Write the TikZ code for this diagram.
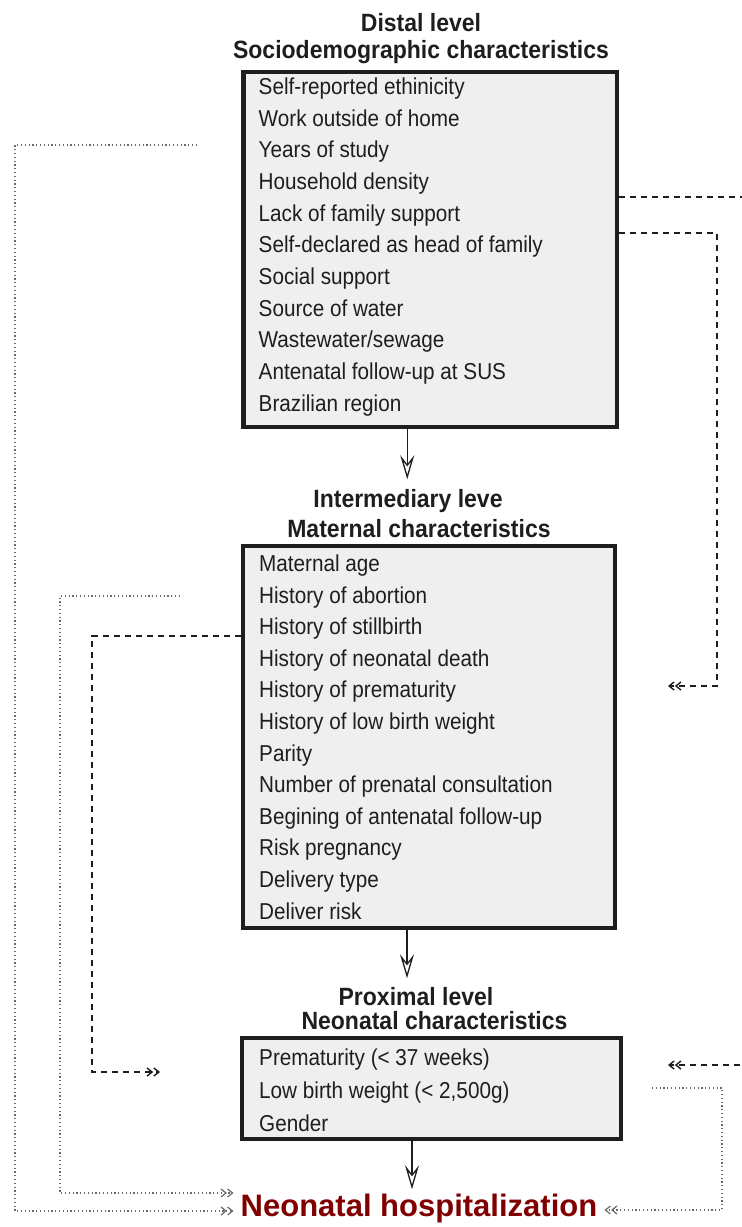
\documentclass[tikz,border=0pt]{standalone}
\usepackage{fontspec}
\setmainfont{Liberation Sans}
\newfontfamily\itemfont{Liberation Sans}[FakeStretch=0.9]
\newfontfamily\headfont{Liberation Sans}[FakeStretch=0.92]
\usetikzlibrary{arrows.meta,calc}
\definecolor{boxfill}{HTML}{EFEFEF}
\definecolor{outred}{HTML}{800000}
\definecolor{ink}{HTML}{1E1E1E}
\definecolor{dotgray}{HTML}{6A6A6A}
\newcommand\itemrows[2]{\vtop{\baselineskip=#1\lineskiplimit=-100pt\relax #2}}
\tikzset{
  ttl/.style={anchor=base, inner sep=0pt, text=ink, font=\headfont\bfseries\fontsize{25}{30}\selectfont},
  box/.style={draw=ink, fill=boxfill, line width=4.5pt, inner sep=0pt},
  items/.style={anchor=base west, inner sep=0pt, text=ink, font=\itemfont\fontsize{23}{31.7}\selectfont},
  outcome/.style={anchor=base, inner sep=7pt, text=outred, font=\bfseries\fontsize{31}{36}\selectfont},
  flow/.style={draw=ink, line width=1.3pt, -{Stealth[open, length=24pt, width=14pt, inset=9pt, line width=1.3pt]}},
  dashl/.style={draw=ink, line width=1.4pt, dash pattern=on 6pt off 5pt,
     -{Straight Barb[length=5pt,width=8pt] Straight Barb[length=5pt,width=8pt]}},
  dotl/.style={draw=dotgray, line width=1.2pt, dash pattern=on 1.2pt off 2.6pt,
     -{Straight Barb[length=5pt,width=8pt] Straight Barb[length=5pt,width=8pt]}},
}
\begin{document}
\begin{tikzpicture}[x=1pt, y=-1pt]
\useasboundingbox (0,0) rectangle (742,1227);
\clip (0,0) rectangle (742,1227);

% titles
\node[ttl] (t1a) at (421,31) {Distal level};
\node[ttl] (t1b) at (421,58) {Sociodemographic characteristics};
\node[ttl] (t2a) at (408,507) {Intermediary leve};
\node[ttl] (t2b) at (419,537) {Maternal characteristics};
\node[ttl] (t3a) at (416,1005) {Proximal level};
\node[ttl] (t3b) at (434.5,1029) {Neonatal characteristics};

% boxes
\node[box, minimum width=373.5pt, minimum height=355pt] (b1) at (430.25,249.5) {};
\node[box, minimum width=372pt, minimum height=382pt] (b2) at (429,737) {};
\node[box, minimum width=379pt, minimum height=101pt] (b3) at (431.5,1088.5) {};

\node[items] (l1) at (258.5,94.3) {\itemrows{31.7pt}{%
  \hbox{Self-reported ethinicity}
  \hbox{Work outside of home}
  \hbox{Years of study}
  \hbox{Household density}
  \hbox{Lack of family support}
  \hbox{Self-declared as head of family}
  \hbox{Social support}
  \hbox{Source of water}
  \hbox{Wastewater/sewage}
  \hbox{Antenatal follow-up at SUS}
  \hbox{Brazilian region}}};

\node[items] (l2) at (259,571.5) {\itemrows{31.6pt}{%
  \hbox{Maternal age}
  \hbox{History of abortion}
  \hbox{History of stillbirth}
  \hbox{History of neonatal death}
  \hbox{History of prematurity}
  \hbox{History of low birth weight}
  \hbox{Parity}
  \hbox{Number of prenatal consultation}
  \hbox{Begining of antenatal follow-up}
  \hbox{Risk pregnancy}
  \hbox{Delivery type}
  \hbox{Deliver risk}}};

\node[items] (l3) at (259,1065.5) {\itemrows{33pt}{%
  \hbox{Prematurity (< 37 weeks)}
  \hbox{Low birth weight (< 2,500g)}
  \hbox{Gender}}};

% outcome
\node[outcome] (out) at (419,1216) {Neonatal hospitalization};

% solid flow arrows
\draw[flow] ([xshift=-23pt]b1.south) -- ++(0,50);
\draw[flow] ([xshift=-22pt]b2.south) -- ++(0,48);
\draw[flow] ([xshift=-19.5pt]b3.south) -- ++(0,48);

% dotted connectors to outcome
\coordinate (s1) at (197,145);
\coordinate (c1) at (15,1211);
\draw[dotl] (s1) -| (c1) -- ([yshift=5pt]out.base west);

\coordinate (s2) at (180,596);
\coordinate (c2) at (60,1193);
\draw[dotl] (s2) -| (c2) -- ([yshift=23pt]out.base west);

\coordinate (s3) at (652,1088);
\coordinate (c3) at (722,1210);
\draw[dotl] (s3) -| (c3) -- ([yshift=6pt]out.base east);

% dashed connectors
\coordinate (c4) at (746,1065);
\coordinate (e4) at (668,1065);
\draw[dashl] ([yshift=52.5pt]b1.east) -| (c4) -- (e4);

\coordinate (c5) at (717,686);
\coordinate (e5) at (668,686);
\draw[dashl] ([yshift=16.5pt]b1.east) -| (c5) -- (e5);

\coordinate (c6) at (92,1072);
\coordinate (e6) at (160,1072);
\draw[dashl] ([yshift=101pt]b2.west) -| (c6) -- (e6);
\end{tikzpicture}
\end{document}
